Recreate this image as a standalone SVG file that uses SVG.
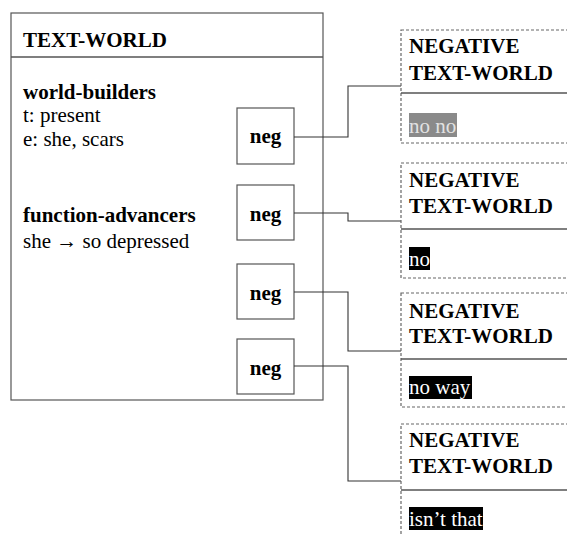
<svg xmlns="http://www.w3.org/2000/svg" width="567" height="534" viewBox="0 0 567 534">
  <style>
    .frame { fill: #fff; stroke: #555; stroke-width: 1.2; }
    .rule { stroke: #555; stroke-width: 1.5; }
    .dash { fill: #fff; stroke: #666; stroke-width: 1.2; stroke-dasharray: 3 2; }
    .wire { fill: none; stroke: #333; stroke-width: 1.1; }
  </style>

  <g font-family="Liberation Serif, Times New Roman, serif" font-size="21" fill="#000">
    <!-- main text-world -->
    <g id="text-world">
      <rect class="frame" x="11" y="13" width="312" height="387"/>
      <line class="rule" x1="11" y1="57" x2="323" y2="57"/>
      <text font-weight="bold" x="23" y="47">TEXT-WORLD</text>
      <text font-weight="bold" x="23" y="99">world-builders</text>
      <text x="23" y="122">t: present</text>
      <text x="23" y="146">e: she, scars</text>
      <text font-weight="bold" x="23" y="222">function-advancers</text>
      <text x="23" y="248">she &#8594; so depressed</text>
    </g>

    <!-- negation boxes -->
    <g id="neg1">
      <rect class="frame" x="237" y="108" width="57" height="56"/>
      <text font-weight="bold" x="265.5" y="143" text-anchor="middle">neg</text>
    </g>
    <g id="neg2">
      <rect class="frame" x="237" y="185" width="57" height="55"/>
      <text font-weight="bold" x="265.5" y="221" text-anchor="middle">neg</text>
    </g>
    <g id="neg3">
      <rect class="frame" x="237" y="264" width="57" height="55"/>
      <text font-weight="bold" x="265.5" y="300" text-anchor="middle">neg</text>
    </g>
    <g id="neg4">
      <rect class="frame" x="237" y="339" width="57" height="55"/>
      <text font-weight="bold" x="265.5" y="375" text-anchor="middle">neg</text>
    </g>

    <!-- connectors -->
    <g id="connectors">
      <path class="wire" d="M294 137 H348 V86 H401"/>
      <path class="wire" d="M294 213 H348 V221 H401"/>
      <path class="wire" d="M294 292 H348 V351 H401"/>
      <path class="wire" d="M294 366 H348 V481 H401"/>
    </g>

    <!-- negative text-worlds -->
    <g id="ntw1">
      <rect class="dash" x="401" y="30" width="200" height="113"/>
      <line class="rule" x1="401" y1="93" x2="567" y2="93"/>
      <text font-weight="bold" x="409" y="53">NEGATIVE</text>
      <text font-weight="bold" x="409" y="80">TEXT-WORLD</text>
      <rect x="409" y="113" width="48" height="24" fill="#8a8a8a"/>
      <text fill="#e2e2e2" x="409" y="133">no no</text>
    </g>
    <g id="ntw2">
      <rect class="dash" x="401" y="163" width="200" height="115"/>
      <line class="rule" x1="401" y1="229" x2="567" y2="229"/>
      <text font-weight="bold" x="409" y="187">NEGATIVE</text>
      <text font-weight="bold" x="409" y="213">TEXT-WORLD</text>
      <rect x="409" y="247" width="21" height="23" fill="#000"/>
      <text fill="#fff" x="409" y="266">no</text>
    </g>
    <g id="ntw3">
      <rect class="dash" x="401" y="293" width="200" height="114"/>
      <line class="rule" x1="401" y1="359" x2="567" y2="359"/>
      <text font-weight="bold" x="409" y="318">NEGATIVE</text>
      <text font-weight="bold" x="409" y="343">TEXT-WORLD</text>
      <rect x="409" y="376" width="63" height="23" fill="#000"/>
      <text fill="#fff" x="409" y="394">no way</text>
    </g>
    <g id="ntw4">
      <rect class="dash" x="401" y="424" width="200" height="130"/>
      <line class="rule" x1="401" y1="490" x2="567" y2="490"/>
      <text font-weight="bold" x="409" y="447">NEGATIVE</text>
      <text font-weight="bold" x="409" y="473">TEXT-WORLD</text>
      <rect x="409" y="507" width="74" height="23" fill="#000"/>
      <text fill="#fff" x="409" y="526">isn&#8217;t that</text>
    </g>
  </g>
</svg>
